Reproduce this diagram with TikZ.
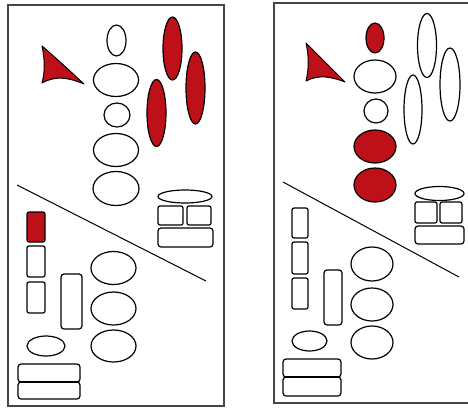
\documentclass[tikz,border=0pt]{standalone}
\usetikzlibrary{shapes.geometric}
\definecolor{dred}{RGB}{190,16,24}
\definecolor{framecol}{RGB}{70,70,70}
\tikzset{
  ov/.style={draw=black, ellipse, inner sep=0pt, outer sep=0pt, line width=1.2pt},
  rov/.style={ov, fill=dred},
  rbox/.style={draw=black, rectangle, rounded corners=3pt, inner sep=0pt, outer sep=0pt, line width=1.2pt},
  rrbox/.style={rbox, fill=dred},
  frame/.style={draw=framecol, line width=1.8pt},
  divider/.style={draw=black, line width=1pt},
  flag/.style={draw=black, fill=dred, line width=1pt, line join=round},
  sz/.style 2 args={minimum width=#1pt, minimum height=#2pt}
}
\begin{document}
\begin{tikzpicture}[x=1pt,y=-1pt]
\useasboundingbox (0,0) rectangle (468,407);
% ---------------- left panel ----------------
\draw[frame] (8,5) rectangle (224,406);
\node[ov, sz={19}{31}] (La1) at (116.5,40.5) {};
\node[ov, sz={45}{33}] (La2) at (116,80) {};
\node[ov, sz={26}{24}] (La3) at (117,115) {};
\node[ov, sz={45}{33}] (La4) at (116,150) {};
\node[ov, sz={46}{34}] (La5) at (116,188.5) {};
\node[rov, sz={19}{63}] (Lr1) at (172.5,48.5) {};
\node[rov, sz={19}{72}] (Lr2) at (195.5,88) {};
\node[rov, sz={19}{67}] (Lr3) at (156.5,113) {};
\draw[flag] (42,46) .. controls (45,60) and (45,72) .. (42,83)
  .. controls (56,75) and (70,78) .. (84,84)
  .. controls (70,71) and (56,58) .. cycle;
\coordinate (Ll1) at (17,185);
\coordinate (Ll2) at (206,281);
\draw[divider] (Ll1) -- (Ll2);
\node[ov, sz={54}{13}] (Lte) at (185,196.5) {};
\node[rbox, rounded corners=2pt, sz={25}{19}] (Lts1) at (170.5,215.5) {};
\node[rbox, rounded corners=2pt, sz={24}{19}] (Lts2) at (199,215.5) {};
\node[rbox, sz={55}{19}] (Ltw) at (185.5,237.5) {};
\node[rrbox, rounded corners=2pt, sz={18}{30}] (Lc1) at (36,227) {};
\node[rbox, rounded corners=2pt, sz={18}{31}] (Lc2) at (36,261.5) {};
\node[rbox, rounded corners=2pt, sz={18}{31}] (Lc3) at (36,297.5) {};
\node[rbox, sz={21}{55}] (Lt) at (71.5,301.5) {};
\node[ov, sz={45}{33}] (Lo1) at (113.5,268) {};
\node[ov, sz={45}{33}] (Lo2) at (113.5,308.5) {};
\node[ov, sz={45}{32}] (Lo3) at (113.5,346) {};
\node[ov, sz={38}{20}] (Ls) at (46,346) {};
\node[rbox, sz={62}{18}] (Lb1) at (49,373) {};
\node[rbox, sz={62}{17}] (Lb2) at (49,390.5) {};
\draw[line width=2.4pt] (Lb1.south west) ++(2,0) -- ([xshift=-2pt]Lb1.south east);
% ---------------- right panel ----------------
\draw[frame] (472,3) -- (274,3) -- (274,403) -- (472,403);
\node[rov, sz={18}{30}] (Ra1) at (375,38) {};
\node[ov, sz={42}{33}] (Ra2) at (375,76.5) {};
\node[ov, sz={24}{24}] (Ra3) at (376,111) {};
\node[rov, sz={42}{33}] (Ra4) at (375,146.5) {};
\node[rov, sz={42}{34}] (Ra5) at (375,185) {};
\node[ov, sz={19}{64}] (Rr1) at (427,45.5) {};
\node[ov, sz={20}{73}] (Rr2) at (450,84.5) {};
\node[ov, sz={18}{69}] (Rr3) at (413,109.5) {};
\draw[flag] (306,43) .. controls (309,56) and (309,69) .. (306,81)
  .. controls (319,74) and (332,77) .. (345,82)
  .. controls (332,69) and (319,56) .. cycle;
\coordinate (Rl1) at (283,182);
\coordinate (Rl2) at (459,277);
\draw[divider] (Rl1) -- (Rl2);
\node[ov, sz={49}{14}] (Rte) at (439.5,193.5) {};
\node[rbox, rounded corners=2pt, sz={22}{21}] (Rts1) at (426,212.5) {};
\node[rbox, rounded corners=2pt, sz={22}{21}] (Rts2) at (451,212.5) {};
\node[rbox, sz={49}{18}] (Rtw) at (439.5,235) {};
\node[rbox, rounded corners=2pt, sz={16}{30}] (Rc1) at (300,223) {};
\node[rbox, rounded corners=2pt, sz={16}{32}] (Rc2) at (300,258) {};
\node[rbox, rounded corners=2pt, sz={16}{31}] (Rc3) at (300,293.5) {};
\node[rbox, sz={18}{55}] (Rt) at (333,297.5) {};
\node[ov, sz={42}{34}] (Ro1) at (372,264) {};
\node[ov, sz={42}{33}] (Ro2) at (372,304.5) {};
\node[ov, sz={42}{33}] (Ro3) at (372,342.5) {};
\node[ov, sz={35}{20}] (Rs) at (309.5,341) {};
\node[rbox, sz={58}{18}] (Rb1) at (312,368) {};
\node[rbox, sz={58}{19}] (Rb2) at (312,386.5) {};
\draw[line width=2.4pt] (Rb1.south west) ++(2,0) -- ([xshift=-2pt]Rb1.south east);
\end{tikzpicture}
\end{document}
